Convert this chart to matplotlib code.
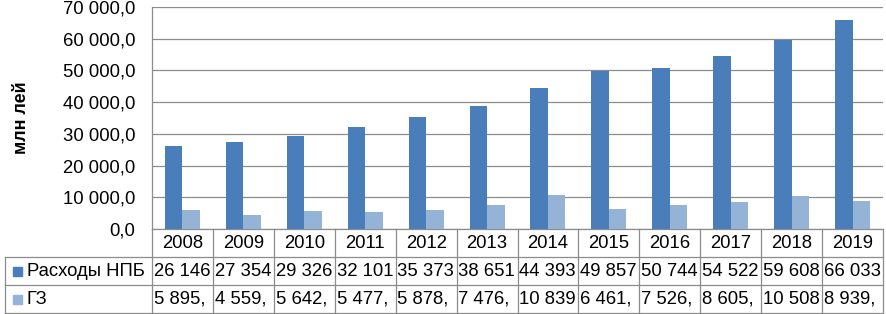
import matplotlib.pyplot as plt
import matplotlib.transforms as mtransforms
from matplotlib.patches import Rectangle
import numpy as np

plt.rcParams['font.family'] = ['Liberation Sans', 'DejaVu Sans']

# Данные
years = ['2008', '2009', '2010', '2011', '2012', '2013',
         '2014', '2015', '2016', '2017', '2018', '2019']
npb = [26146, 27354, 29326, 32101, 35373, 38651,
       44393, 49857, 50744, 54522, 59608, 66033]
gz = [5895, 4559, 5642, 5477, 5878, 7476,
      10839, 6461, 7526, 8605, 10508, 8939]
series_names = ['Расходы НПБ', 'ГЗ']

c_dark = '#4A7EBB'
c_light = '#95B3D7'
grid_c = '#8C8C8C'
FS = 13.3

W, H = 886, 314


def fy(y):
    # пиксели сверху -> доля фигуры
    return 1 - y / H


def fmt(v):
    s = f'{v:,.1f}'.replace(',', ' ').replace('.', ',')
    return s


fig = plt.figure(figsize=(W / 100, H / 100), dpi=100)
ax = fig.add_axes([152 / W, fy(229), (883 - 152) / W, (229 - 7) / H])

x = np.arange(len(years))
w = 0.287
ax.bar(x - w / 2, npb, w, color=c_dark, zorder=3)
ax.bar(x + w / 2, gz, w, color=c_light, zorder=3)

ax.set_xlim(-0.5, len(years) - 0.5)
ax.set_ylim(0, 70000)
ax.set_yticks(np.arange(0, 70001, 10000))
ax.set_yticklabels([fmt(v) for v in np.arange(0, 70001, 10000)], fontsize=FS)
ax.set_xticks([])
ax.tick_params(axis='y', length=0, pad=12)
ax.grid(axis='y', color=grid_c, lw=0.9, zorder=0)
for s in ['top', 'right']:
    ax.spines[s].set_visible(False)
for s in ['left', 'bottom']:
    ax.spines[s].set_color(grid_c)
    ax.spines[s].set_linewidth(0.9)

fig.text(22 / W, fy(118), 'млн лей', rotation=90, ha='center', va='center',
         fontsize=13, fontweight='bold')

# Таблица данных под графиком
tr = mtransforms.blended_transform_factory(ax.transData, fig.transFigure)
row_y = [229, 257, 285, 313]
edges = np.arange(len(years) + 1) - 0.5
left_px = 5 / W

for e in edges:
    ax.plot([e, e], [fy(229), fy(313)], color=grid_c, lw=0.9,
            transform=tr, clip_on=False)
for yy in row_y[1:]:
    fig.add_artist(plt.Line2D([left_px, 883 / W], [fy(yy), fy(yy)],
                              color=grid_c, lw=0.9))
fig.add_artist(plt.Line2D([left_px, left_px], [fy(257), fy(313)],
                          color=grid_c, lw=0.9))

for i, yr in enumerate(years):
    ax.text(i, fy(243), yr, transform=tr, ha='center', va='center',
            fontsize=FS, clip_on=False)

for r, (name, vals, col) in enumerate(zip(series_names, [npb, gz], [c_dark, c_light])):
    yc = (row_y[r + 1] + row_y[r + 2]) / 2
    fig.add_artist(Rectangle((13 / W, fy(yc + 4.5)), 9 / W, 9 / H,
                             color=col, transform=fig.transFigure))
    fig.text(27 / W, fy(yc), name, ha='left', va='center', fontsize=FS)
    for i, v in enumerate(vals):
        ax.text(i - 0.5 + 0.03, fy(yc), fmt(v)[:6], transform=tr,
                ha='left', va='center', fontsize=FS, clip_on=False)

fig.savefig('out.png', dpi=100)
